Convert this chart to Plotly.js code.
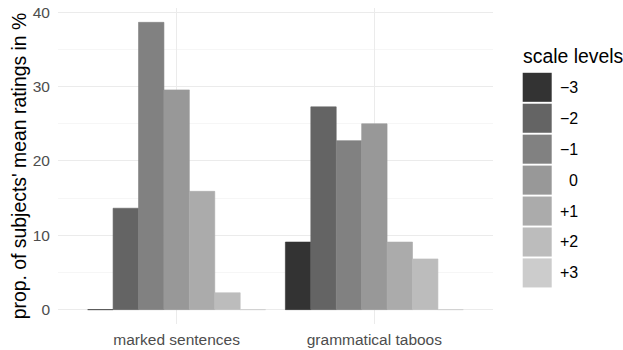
<!DOCTYPE html>
<html>
<head>
<meta charset="utf-8">
<script src="https://cdn.plot.ly/plotly-3.0.1.min.js"></script>
<style>
html,body{margin:0;padding:0;background:#fff;}
#chart{width:623px;height:350px;}
</style>
</head>
<body>
<div id="chart"></div>
<script>
// ---- data ----
const categories = ['marked sentences', 'grammatical taboos'];
const levels = ['−3', '−2', '−1', '0', '+1', '+2', '+3'];
const markedValues = [0, 13.64, 38.64, 29.55, 15.91, 2.27, 0];
const tabooValues = [9.09, 27.27, 22.73, 25.00, 9.09, 6.82, 0];
const yTicks = [0, 10, 20, 30, 40];
const greys = ['#333333', '#646464', '#818181', '#989898', '#ababab', '#bcbcbc', '#cccccc'];

const FONT = 'Liberation Sans, Arial, Helvetica, sans-serif';
const W = 623, H = 350;
const M = {l: 58, r: 130, t: 8, b: 26.4};
const plotW = W - M.l - M.r, plotH = H - M.t - M.b;
const px2x = px => (px - M.l) / plotW;
const px2y = py => (H - M.b - py) / plotH;

const traces = levels.map((lv, i) => ({
  type: 'bar',
  name: lv,
  x: categories,
  y: [markedValues[i], tabooValues[i]],
  marker: {color: greys[i], line: {width: 0.6, color: greys[i]}},
  showlegend: false,
  hoverinfo: 'x+y+name'
}));

// ggplot-style legend (keys + labels) built from the level arrays
const shapes = [];
const annotations = [];
const keyTop0 = 72.7, keyPitch = 30.9, keyH = 29, keyX0 = 522.7, keyX1 = 551.7;
levels.forEach((lv, i) => {
  const top = keyTop0 + i * keyPitch;
  shapes.push({
    type: 'rect', xref: 'paper', yref: 'paper',
    x0: px2x(keyX0), x1: px2x(keyX1),
    y0: px2y(top + keyH), y1: px2y(top),
    fillcolor: greys[i], line: {width: 0}, layer: 'above'
  });
  annotations.push({
    xref: 'paper', yref: 'paper',
    x: px2x(580), y: px2y(top + keyH / 2),
    xanchor: 'right', yanchor: 'middle',
    text: lv, showarrow: false,
    font: {family: FONT, size: 16, color: '#000000'}
  });
});
annotations.push({
  xref: 'paper', yref: 'paper',
  x: px2x(520.5), y: px2y(55.5),
  xanchor: 'left', yanchor: 'middle',
  text: 'scale levels', showarrow: false,
  font: {family: FONT, size: 19.4, color: '#000000'}
});

const layout = {
  width: W, height: H,
  margin: M,
  paper_bgcolor: '#ffffff',
  plot_bgcolor: '#ffffff',
  barmode: 'group',
  bargap: 0.1,
  bargroupgap: 0,
  showlegend: false,
  font: {family: FONT, color: '#000000'},
  xaxis: {
    type: 'category',
    range: [-0.6, 1.6],
    showgrid: true, gridcolor: '#ebebeb', gridwidth: 1.1,
    zeroline: false, showline: false, ticks: '',
    ticklabelstandoff: 4,
    tickfont: {family: FONT, size: 15.5, color: '#4d4d4d'}
  },
  yaxis: {
    range: [-1.932, 40.568],
    tickvals: yTicks,
    ticktext: yTicks.map(String),
    showgrid: true, gridcolor: '#ebebeb', gridwidth: 1.1,
    minor: {dtick: 5, tick0: 0, showgrid: true, gridcolor: '#f0f0f0', gridwidth: 0.6, ticks: ''},
    zeroline: false, showline: false, ticks: '',
    ticklabelstandoff: 7,
    tickfont: {family: FONT, size: 15.5, color: '#4d4d4d'},
    title: {text: "prop. of subjects' mean ratings in %", font: {family: FONT, size: 19.4, color: '#000000'}, standoff: 0}
  },
  shapes: shapes,
  annotations: annotations
};

Plotly.newPlot('chart', traces, layout, {displayModeBar: false, staticPlot: true});
</script>
</body>
</html>
